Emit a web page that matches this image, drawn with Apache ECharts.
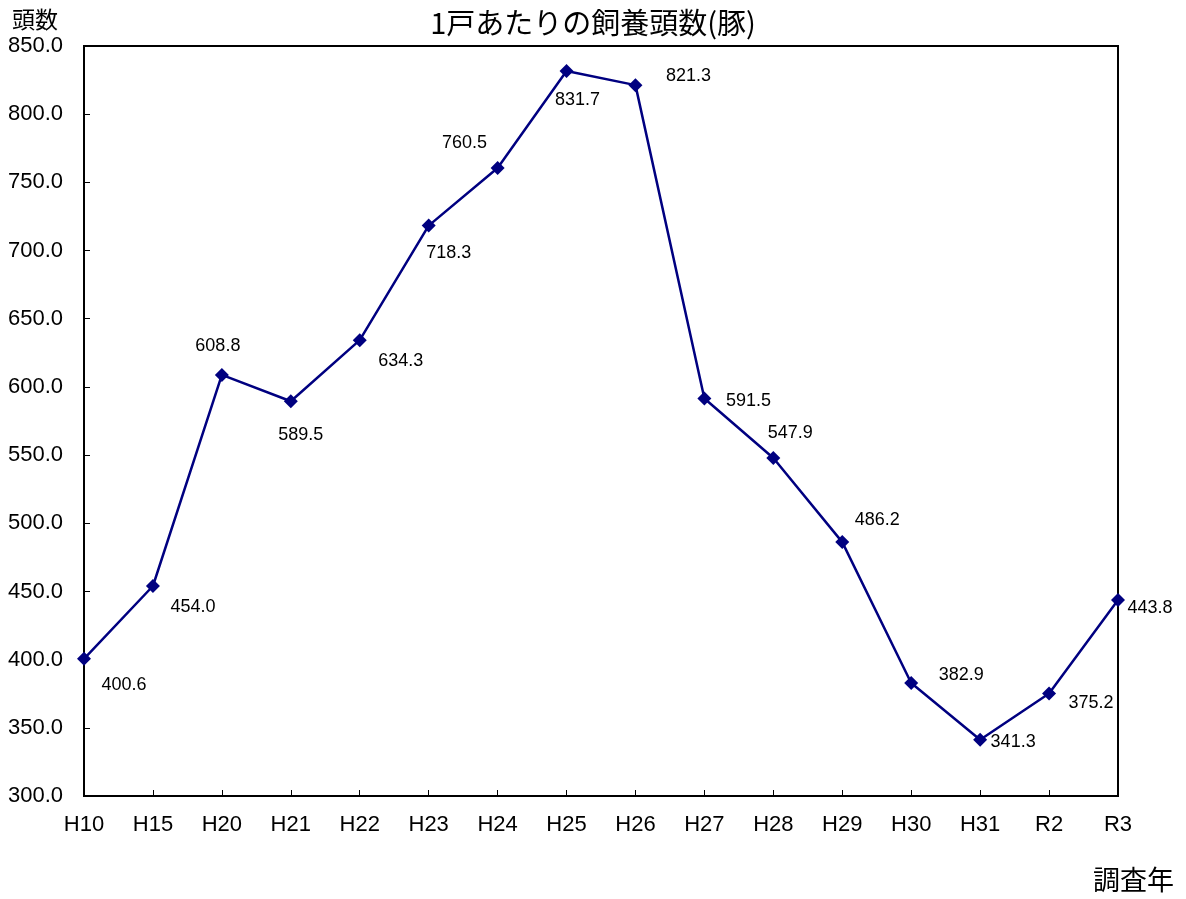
<!DOCTYPE html>
<html><head><meta charset="utf-8">
<script src="https://cdn.jsdelivr.net/npm/echarts@6/dist/echarts.min.js"></script>
<style>html,body{margin:0;padding:0;background:#fff;}#c{width:1186px;height:899px;}</style>
</head><body><div id="c"></div>
<script>
const categories = ['H10','H15','H20','H21','H22','H23','H24','H25','H26','H27','H28','H29','H30','H31','R2','R3'];
const values = [400.6,454.0,608.8,589.5,634.3,718.3,760.5,831.7,821.3,591.5,547.9,486.2,382.9,341.3,375.2,443.8];
const labelOffsets = [[40,26],[40,21],[-4,-29],[10,34],[41,21],[20,27],[-33,-25],[11,29],[53,-9],[44,3],[17,-25],[35,-22],[50,-8],[33,2],[42,10],[32,8]];

const numFont = '"Liberation Sans", Arial, sans-serif';
const jpFont = '"Noto Sans CJK JP", sans-serif';

const chart = echarts.init(document.getElementById('c'));
chart.setOption({
  animation: false,
  backgroundColor: '#fff',
  title: [
    {text: '1戸あたりの飼養頭数(豚)', left: 'center', top: 3, textStyle: {fontFamily: jpFont, fontSize: 29, fontWeight: 'normal', color: '#000'}},
    {text: '頭数', left: 7, top: 3, textStyle: {fontFamily: jpFont, fontSize: 23, fontWeight: 'normal', color: '#000'}},
    {text: '調査年', left: 1088, top: 861, textStyle: {fontFamily: jpFont, fontSize: 27, fontWeight: 'normal', color: '#000'}}
  ],
  grid: {left: 84, right: 68, top: 46, bottom: 103, show: true, borderColor: '#000', borderWidth: 2, backgroundColor: 'transparent'},
  xAxis: {
    type: 'category', data: categories, boundaryGap: false,
    axisLine: {lineStyle: {color: '#000', width: 2}},
    axisTick: {inside: true, length: 6, lineStyle: {color: '#000', width: 1}},
    axisLabel: {fontFamily: numFont, fontSize: 22, color: '#000', margin: 18},
    splitLine: {show: false}
  },
  yAxis: {
    type: 'value', min: 300, max: 850, interval: 50,
    axisLine: {show: true, lineStyle: {color: '#000', width: 2}},
    axisTick: {show: true, inside: true, length: 6, lineStyle: {color: '#000', width: 1}},
    axisLabel: {fontFamily: numFont, fontSize: 22, color: '#000', margin: 21, formatter: v => v.toFixed(1)},
    splitLine: {show: false}
  },
  series: [{
    type: 'line',
    data: values.map((v, i) => ({value: v, label: {offset: labelOffsets[i]}})),
    symbol: 'diamond', symbolSize: 14,
    lineStyle: {color: '#000080', width: 2.5},
    itemStyle: {color: '#000080'},
    label: {show: true, position: 'inside', fontFamily: numFont, fontSize: 18, color: '#000', formatter: p => p.value.toFixed(1)}
  }]
});
</script></body></html>
